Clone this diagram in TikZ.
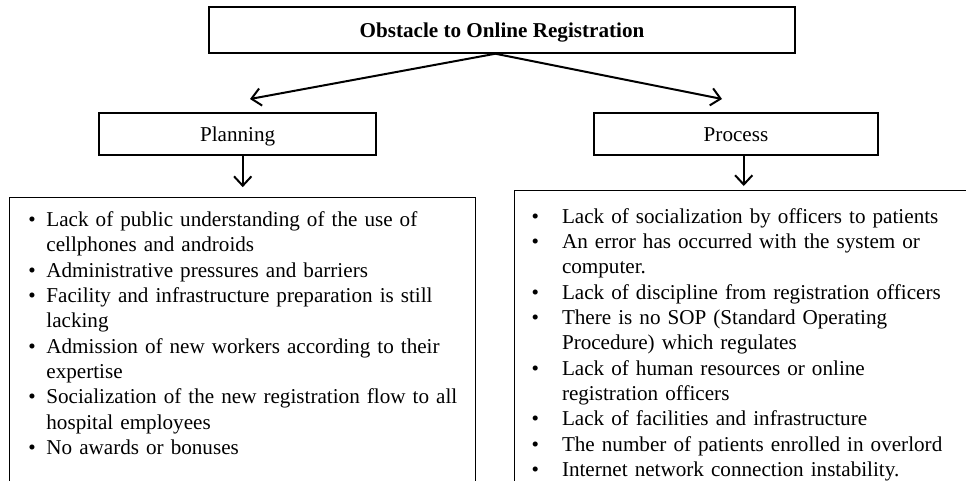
\documentclass[tikz,border=0pt]{standalone}
\usepackage{fontspec}
\setmainfont{Liberation Serif}
\usetikzlibrary{arrows.meta}
\tikzset{
  box/.style={draw, line width=1.1pt, inner sep=0pt, text height=11pt, text depth=0.5pt},
  arr/.style={line width=1.5pt, -{Straight Barb[length=7pt,width=13pt,line width=1.5pt]}},
  every node/.style={font=\fontsize{15.85}{19}\selectfont}
}
\newenvironment{obsitems}[2]{\begin{list}{\textbullet}{\setlength{\leftmargin}{#1}%
  \setlength{\labelsep}{#2}\setlength{\labelwidth}{\dimexpr#1-#2\relax}%
  \setlength{\itemsep}{0pt}\setlength{\parsep}{0pt}\setlength{\topsep}{0pt}\setlength{\partopsep}{0pt}}}%
  {\end{list}}

\begin{document}
\begin{tikzpicture}[x=0.75pt,y=-0.75pt]
    \useasboundingbox (0,0) rectangle (966,480);
    \clip (0,0) rectangle (966,480);
    %Heading and the two branches
    \node[box, minimum width=439.5pt, minimum height=34.5pt] (top) at (502,30) {\textbf{Obstacle to Online Registration}};
    \node[box, minimum width=207.75pt, minimum height=31.5pt] (planning) at (237.6,134) {Planning};
    \node[box, minimum width=213pt, minimum height=31.5pt] (process) at (736,134) {Process};
    %Frames of the two lists, they run on below the page
    \node[box, anchor=north west, minimum width=349.5pt, minimum height=240pt] (planframe) at (9,196.5) {};
    \node[box, anchor=north west, minimum width=343.5pt, minimum height=240pt] (procframe) at (514,190) {};
    %Arrows
    \coordinate (plantip) at (250,99);
    \coordinate (proctip) at (722,99);
    \draw[arr] ([xshift=-5pt]top.south) -- (plantip);
    \draw[arr] ([xshift=-5pt]top.south) -- (proctip);
    \draw[arr] (planning.south -| planframe.north) -- ([yshift=7pt]planframe.north);
    \draw[arr] (process.south -| procframe.north) -- ([yshift=3pt]procframe.north);
    %The lists
    \node[anchor=north west, text width=360pt, align=left, inner sep=0pt] (planlist) at (28,201) {%
      \begin{obsitems}{13.6pt}{8pt}
      \item Lack of public understanding of the use of\newline cellphones and androids
      \item Administrative pressures and barriers
      \item Facility and infrastructure preparation is still\newline lacking
      \item Admission of new workers according to their\newline expertise
      \item Socialization of the new registration flow to all\newline hospital employees
      \item No awards or bonuses
      \end{obsitems}};
    \node[anchor=north west, text width=400pt, align=left, inner sep=0pt] (proclist) at (531.2,197.5) {%
      \begin{obsitems}{22.9pt}{17.3pt}
      \item Lack of socialization by officers to patients
      \item An error has occurred with the system or\newline computer.
      \item Lack of discipline from registration officers
      \item There is no SOP (Standard Operating\newline Procedure) which regulates
      \item Lack of human resources or online\newline registration officers
      \item Lack of facilities and infrastructure
      \item The number of patients enrolled in overlord
      \item Internet network connection instability.
      \end{obsitems}};
\end{tikzpicture}
\end{document}
